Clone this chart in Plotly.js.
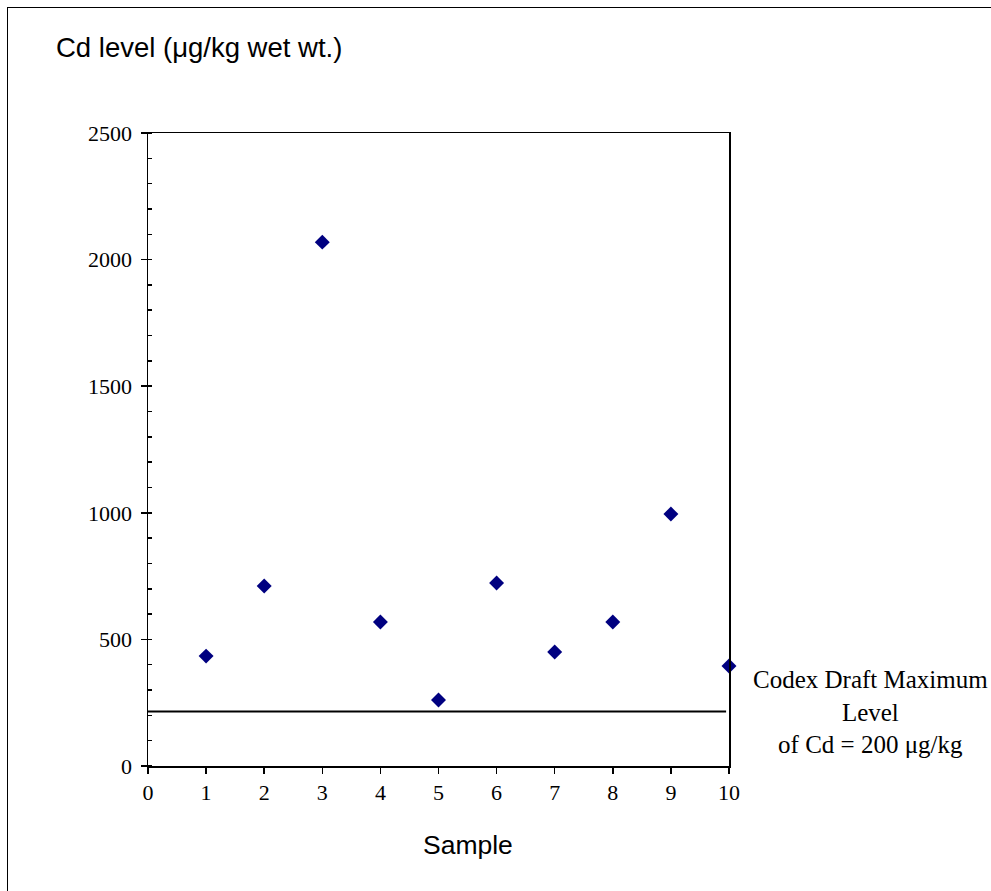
<!DOCTYPE html>
<html>
<head>
<meta charset="utf-8">
<script src="https://cdn.plot.ly/plotly-3.0.1.min.js"></script>
<style>
html,body{margin:0;padding:0;width:991px;height:891px;overflow:hidden;background:#fff;}
#chart{position:absolute;left:0;top:0;width:991px;height:891px;}
#frame{position:absolute;left:7px;top:7px;width:1200px;height:1100px;border:1.5px solid #000;pointer-events:none;}
</style>
</head>
<body>
<div id="chart"></div>
<div id="frame"></div>
<script>
const samples = [1, 2, 3, 4, 5, 6, 7, 8, 9, 10];
const cdLevels = [434, 711, 2069, 569, 261, 723, 450, 569, 995, 395];
const limitX = [0, 9.95];
const limitY = [215, 215];
const yTickVals = [0, 500, 1000, 1500, 2000, 2500];
const xTickVals = [0, 1, 2, 3, 4, 5, 6, 7, 8, 9, 10];

const traces = [
  {
    x: limitX, y: limitY, mode: 'lines', type: 'scatter',
    line: {color: '#000', width: 2}, hoverinfo: 'skip', showlegend: false
  },
  {
    x: samples, y: cdLevels, mode: 'markers', type: 'scatter',
    marker: {symbol: 'diamond', size: 11.5, color: '#000080', line: {width: 0}},
    cliponaxis: false, showlegend: false
  }
];

const serif = 'Liberation Serif, Times New Roman, serif';
const sans = 'Liberation Sans, Arial, sans-serif';

const layout = {
  width: 991, height: 891,
  margin: {l: 148, r: 262, t: 133, b: 125},
  paper_bgcolor: '#fff', plot_bgcolor: '#fff',
  showlegend: false,
  xaxis: {
    range: [0, 10], tickvals: xTickVals, ticktext: xTickVals.map(String),
    showgrid: false, zeroline: false, showline: true, linecolor: '#000', linewidth: 1.5,
    mirror: true, ticks: 'outside', ticklen: 6, tickcolor: '#000', tickwidth: 1.5,
    tickfont: {family: serif, size: 22, color: '#000'}
  },
  yaxis: {
    range: [0, 2500], tickvals: yTickVals, ticktext: yTickVals.map(String),
    showgrid: false, zeroline: false, showline: true, linecolor: '#000', linewidth: 1.5,
    mirror: true, ticks: 'outside', ticklen: 6, tickcolor: '#000', tickwidth: 1.5,
    ticklabelstandoff: 4,
    tickfont: {family: serif, size: 22, color: '#000'},
    minor: {dtick: 100, ticks: 'inside', ticklen: 4, tickcolor: '#000', tickwidth: 1.5, showgrid: false}
  },
  annotations: [
    {
      text: 'Cd level (μg/kg wet wt.)', xref: 'paper', yref: 'paper',
      x: -0.1618, y: 1.1343, xanchor: 'left', yanchor: 'middle', showarrow: false,
      font: {family: sans, size: 27.5, color: '#000'}
    },
    {
      text: 'Sample', xref: 'paper', yref: 'paper',
      x: 0.551, y: -0.1248, xanchor: 'center', yanchor: 'middle', showarrow: false,
      font: {family: sans, size: 26.5, color: '#000'}
    },
    {
      text: 'Codex Draft Maximum<br>Level<br>of Cd = 200 μg/kg', xref: 'paper', yref: 'paper',
      x: 1.2444, y: 0.0853, xanchor: 'center', yanchor: 'middle', align: 'center', showarrow: false,
      font: {family: serif, size: 25, color: '#000'}
    }
  ]
};

Plotly.newPlot('chart', traces, layout, {displayModeBar: false, staticPlot: true});
</script>
</body>
</html>
